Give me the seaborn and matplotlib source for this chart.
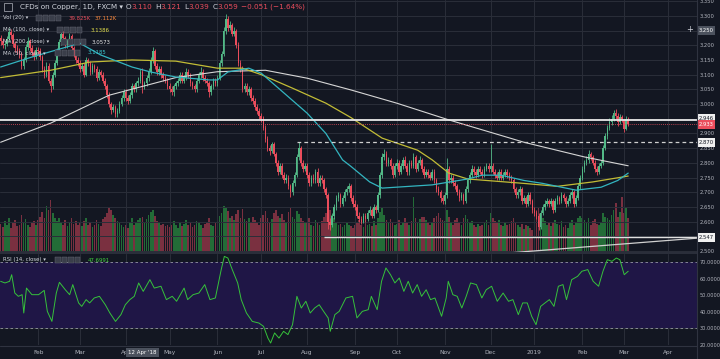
import numpy as np
import pandas as pd
import seaborn as sns
import matplotlib.pyplot as plt
from matplotlib.patches import Rectangle

W, H = 720, 359

# daily bars, 8 Jan 2018 .. 5 Mar 2019 (one row per month)
first_open = 3.225
closes = [
    3.215, 3.200, 3.205, 3.220, 3.245, 3.235, 3.205, 3.190, 3.180, 3.170, 3.130, 3.150, 3.195, 3.215, 3.190, 3.175, 3.160, 3.185,
    3.180, 3.160, 3.120, 3.100, 3.130, 3.080, 3.060, 3.100, 3.140, 3.180, 3.210, 3.240, 3.225, 3.200, 3.215, 3.230, 3.190, 3.170, 3.150, 3.140,
    3.120, 3.130, 3.100, 3.150, 3.140, 3.110, 3.130, 3.120, 3.090, 3.110, 3.100, 3.080, 3.060, 3.030, 3.000, 2.980, 2.990, 2.965, 2.975, 3.000, 3.020, 3.040,
    3.020, 3.010, 3.030, 3.060, 3.050, 3.070, 3.080, 3.110, 3.059, 3.070, 3.090, 3.110, 3.150, 3.180, 3.130, 3.110, 3.120, 3.100, 3.090, 3.080, 3.060,
    3.050, 3.040, 3.060, 3.070, 3.080, 3.100, 3.080, 3.090, 3.110, 3.100, 3.070, 3.060, 3.050, 3.080, 3.100, 3.110, 3.090, 3.080, 3.070, 3.040, 3.060, 3.080, 3.070,
    3.090, 3.140, 3.170, 3.250, 3.290, 3.260, 3.270, 3.240, 3.250, 3.200, 3.140, 3.120, 3.050, 3.060, 3.040, 3.050, 3.020, 3.010, 2.990, 2.975, 2.960,
    2.950, 2.920, 2.880, 2.850, 2.840, 2.865, 2.830, 2.800, 2.770, 2.790, 2.760, 2.740, 2.750, 2.720, 2.700, 2.730, 2.760, 2.820, 2.850, 2.800, 2.780, 2.790,
    2.760, 2.730, 2.750, 2.740, 2.770, 2.730, 2.750, 2.740, 2.710, 2.690, 2.600, 2.590, 2.620, 2.650, 2.680, 2.690, 2.660, 2.680, 2.700, 2.710, 2.720, 2.680, 2.660,
    2.650, 2.620, 2.610, 2.600, 2.620, 2.610, 2.630, 2.640, 2.620, 2.650, 2.640, 2.690, 2.760, 2.820, 2.830, 2.800, 2.810, 2.790, 2.760, 2.790,
    2.800, 2.770, 2.790, 2.810, 2.790, 2.770, 2.800, 2.790, 2.820, 2.780, 2.800, 2.810, 2.780, 2.760, 2.770, 2.760, 2.750, 2.770, 2.740, 2.710, 2.700, 2.680, 2.670,
    2.690, 2.780, 2.740, 2.750, 2.730, 2.720, 2.700, 2.680, 2.690, 2.670, 2.710, 2.740, 2.760, 2.780, 2.770, 2.760, 2.780, 2.770, 2.760, 2.780, 2.790, 2.780,
    2.790, 2.770, 2.760, 2.750, 2.770, 2.750, 2.760, 2.770, 2.760, 2.750, 2.740, 2.710, 2.690, 2.700, 2.710, 2.670, 2.680, 2.660, 2.690, 2.670, 2.640,
    2.630, 2.620, 2.580, 2.630, 2.650, 2.660, 2.670, 2.660, 2.670, 2.640, 2.670, 2.680, 2.670, 2.690, 2.680, 2.660, 2.670, 2.690, 2.700, 2.660, 2.680, 2.720, 2.750,
    2.780, 2.800, 2.810, 2.830, 2.820, 2.800, 2.780, 2.770, 2.790, 2.800, 2.850, 2.890, 2.920, 2.940, 2.950, 2.970, 2.960, 2.940, 2.955, 2.945,
    2.915, 2.950, 2.933,
]
highs = [
    3.235, 3.225, 3.215, 3.232, 3.258, 3.255, 3.242, 3.215, 3.200, 3.192, 3.178, 3.160, 3.205, 3.228, 3.222, 3.200, 3.185, 3.195,
    3.195, 3.190, 3.168, 3.130, 3.142, 3.138, 3.090, 3.110, 3.150, 3.190, 3.222, 3.255, 3.250, 3.232, 3.222, 3.242, 3.238, 3.198, 3.180, 3.160,
    3.150, 3.140, 3.138, 3.160, 3.158, 3.148, 3.140, 3.135, 3.128, 3.120, 3.115, 3.108, 3.090, 3.068, 3.040, 3.008, 3.000, 2.998, 2.985, 3.010, 3.030, 3.050,
    3.050, 3.030, 3.040, 3.070, 3.068, 3.080, 3.092, 3.120, 3.121, 3.080, 3.100, 3.122, 3.160, 3.195, 3.188, 3.140, 3.130, 3.128, 3.110, 3.098, 3.090,
    3.070, 3.060, 3.068, 3.080, 3.090, 3.110, 3.108, 3.098, 3.122, 3.118, 3.105, 3.078, 3.068, 3.090, 3.110, 3.125, 3.118, 3.098, 3.088, 3.078, 3.068, 3.090, 3.088,
    3.100, 3.150, 3.180, 3.262, 3.305, 3.298, 3.282, 3.275, 3.262, 3.255, 3.210, 3.150, 3.130, 3.072, 3.070, 3.060, 3.058, 3.030, 3.020, 3.000, 2.985,
    2.968, 2.958, 2.928, 2.890, 2.862, 2.872, 2.870, 2.838, 2.810, 2.800, 2.798, 2.770, 2.762, 2.758, 2.728, 2.740, 2.770, 2.830, 2.872, 2.858, 2.808, 2.800,
    2.800, 2.770, 2.758, 2.762, 2.780, 2.782, 2.760, 2.758, 2.748, 2.718, 2.698, 2.612, 2.630, 2.660, 2.690, 2.702, 2.698, 2.690, 2.710, 2.720, 2.730, 2.728, 2.690,
    2.672, 2.660, 2.632, 2.620, 2.630, 2.628, 2.640, 2.652, 2.648, 2.660, 2.658, 2.700, 2.770, 2.835, 2.848, 2.840, 2.820, 2.818, 2.798, 2.800,
    2.812, 2.810, 2.798, 2.820, 2.822, 2.800, 2.810, 2.808, 2.835, 2.828, 2.810, 2.822, 2.818, 2.790, 2.780, 2.778, 2.768, 2.780, 2.778, 2.750, 2.720, 2.708, 2.690,
    2.700, 2.815, 2.790, 2.762, 2.758, 2.740, 2.728, 2.710, 2.700, 2.698, 2.720, 2.750, 2.770, 2.792, 2.790, 2.778, 2.790, 2.788, 2.778, 2.790, 2.800, 2.798,
    2.865, 2.800, 2.780, 2.770, 2.780, 2.778, 2.768, 2.780, 2.778, 2.768, 2.758, 2.748, 2.718, 2.710, 2.720, 2.718, 2.690, 2.688, 2.700, 2.700, 2.678,
    2.650, 2.640, 2.628, 2.640, 2.660, 2.672, 2.680, 2.678, 2.680, 2.678, 2.680, 2.690, 2.688, 2.700, 2.698, 2.688, 2.680, 2.700, 2.712, 2.708, 2.690, 2.730, 2.760,
    2.790, 2.810, 2.822, 2.842, 2.838, 2.828, 2.808, 2.790, 2.800, 2.810, 2.860, 2.900, 2.930, 2.952, 2.962, 2.980, 2.982, 2.968, 2.965, 2.962,
    2.950, 2.958, 2.955,
]
lows = [
    3.200, 3.190, 3.188, 3.196, 3.212, 3.222, 3.195, 3.178, 3.170, 3.158, 3.118, 3.120, 3.142, 3.185, 3.180, 3.162, 3.150, 3.152,
    3.170, 3.150, 3.110, 3.088, 3.092, 3.070, 3.040, 3.052, 3.092, 3.132, 3.172, 3.200, 3.215, 3.190, 3.192, 3.205, 3.180, 3.160, 3.140, 3.128,
    3.110, 3.112, 3.092, 3.095, 3.130, 3.100, 3.102, 3.110, 3.080, 3.082, 3.092, 3.070, 3.050, 3.020, 2.990, 2.965, 2.972, 2.955, 2.955, 2.968, 2.992, 3.012,
    3.010, 3.000, 3.002, 3.022, 3.040, 3.042, 3.062, 3.072, 3.039, 3.050, 3.062, 3.080, 3.102, 3.140, 3.120, 3.100, 3.100, 3.090, 3.080, 3.070, 3.050,
    3.040, 3.030, 3.028, 3.050, 3.060, 3.070, 3.070, 3.070, 3.082, 3.090, 3.060, 3.050, 3.040, 3.042, 3.070, 3.090, 3.080, 3.070, 3.060, 3.025, 3.032, 3.050, 3.060,
    3.062, 3.082, 3.130, 3.162, 3.240, 3.250, 3.252, 3.230, 3.232, 3.190, 3.130, 3.108, 3.040, 3.042, 3.030, 3.032, 3.010, 3.000, 2.980, 2.965, 2.950,
    2.940, 2.910, 2.870, 2.840, 2.825, 2.832, 2.822, 2.790, 2.760, 2.762, 2.750, 2.730, 2.732, 2.712, 2.685, 2.692, 2.722, 2.752, 2.810, 2.790, 2.770, 2.772,
    2.750, 2.720, 2.722, 2.730, 2.732, 2.722, 2.722, 2.732, 2.700, 2.680, 2.575, 2.572, 2.582, 2.610, 2.640, 2.670, 2.650, 2.652, 2.670, 2.690, 2.700, 2.670, 2.650,
    2.640, 2.612, 2.600, 2.592, 2.595, 2.600, 2.602, 2.622, 2.612, 2.612, 2.630, 2.632, 2.682, 2.750, 2.810, 2.790, 2.790, 2.780, 2.750, 2.752,
    2.780, 2.760, 2.762, 2.780, 2.782, 2.760, 2.760, 2.782, 2.782, 2.770, 2.772, 2.792, 2.770, 2.750, 2.752, 2.750, 2.740, 2.742, 2.730, 2.700, 2.690, 2.668, 2.660,
    2.660, 2.682, 2.730, 2.730, 2.720, 2.710, 2.690, 2.670, 2.672, 2.660, 2.662, 2.700, 2.730, 2.752, 2.760, 2.750, 2.752, 2.762, 2.750, 2.752, 2.772, 2.770,
    2.770, 2.762, 2.750, 2.740, 2.742, 2.740, 2.742, 2.752, 2.750, 2.742, 2.730, 2.700, 2.680, 2.682, 2.692, 2.660, 2.662, 2.650, 2.652, 2.660, 2.630,
    2.620, 2.610, 2.572, 2.575, 2.622, 2.640, 2.652, 2.650, 2.652, 2.630, 2.632, 2.660, 2.660, 2.662, 2.670, 2.650, 2.652, 2.662, 2.682, 2.650, 2.652, 2.672, 2.712,
    2.742, 2.770, 2.792, 2.800, 2.810, 2.792, 2.770, 2.760, 2.762, 2.782, 2.792, 2.842, 2.882, 2.910, 2.930, 2.942, 2.950, 2.925, 2.932, 2.940,
    2.905, 2.910, 2.925,
]
volumes = [  # thousands
    32, 28, 35, 30, 38, 27, 33, 36, 29, 31, 42, 34, 37, 30, 28, 33, 35, 31,
    36, 40, 45, 38, 52, 47, 59, 44, 39, 35, 38, 33, 30, 36, 29, 34, 38, 32, 35, 30,
    33, 29, 35, 38, 31, 34, 28, 30, 36, 32, 29, 37, 40, 44, 50, 47, 42, 38, 35, 33, 30, 28,
    30, 27, 34, 38, 31, 33, 36, 39, 39.825, 34, 37, 42, 45, 48, 41, 35, 33, 30, 32, 29, 31,
    28, 31, 35, 30, 27, 33, 29, 32, 36, 30, 34, 28, 31, 35, 33, 30, 27, 32, 34, 38, 31, 29, 33,
    35, 41, 44, 52, 50, 46, 38, 41, 36, 43, 47, 39, 49, 37, 35, 38, 34, 40, 36, 33, 31,
    38, 42, 46, 39, 34, 37, 44, 48, 41, 38, 43, 36, 34, 45, 50, 40, 37, 46, 43, 39, 35, 33,
    34, 38, 31, 29, 36, 33, 30, 35, 40, 44, 55, 48, 42, 38, 33, 30, 32, 28, 30, 34, 31, 29, 27,
    30, 33, 36, 31, 28, 34, 30, 32, 29, 35, 31, 38, 45, 50, 42, 36, 33, 37, 34, 30,
    32, 36, 30, 34, 38, 33, 31, 35, 62, 39, 33, 37, 40, 40, 36, 33, 30, 34, 38, 41, 44, 39, 36,
    35, 48, 40, 33, 31, 36, 38, 34, 30, 39, 42, 37, 33, 35, 30, 28, 32, 29, 31, 34, 36, 30,
    44, 38, 35, 33, 36, 31, 29, 34, 30, 32, 35, 38, 33, 30, 28, 32, 26, 30, 29, 27, 25,
    30, 45, 50, 42, 38, 35, 31, 33, 29, 34, 36, 32, 30, 35, 28, 31, 27, 33, 36, 30, 34, 38, 41,
    39, 36, 33, 38, 31, 35, 37, 32, 30, 34, 44, 40, 38, 36, 42, 48, 55, 40, 45, 62,
    44, 50, 38,
]

# moving averages (bar index, value)
ma50_idx = [0, 15, 38, 48, 63, 72, 84, 100, 104, 109, 119, 125, 136, 147, 156, 164, 168, 177, 183, 207, 224, 231, 240, 251, 260, 276, 288, 296, 301]
ma50_val = [3.126, 3.160, 3.207, 3.167, 3.126, 3.109, 3.092, 3.082, 3.082, 3.109, 3.122, 3.105, 3.037, 2.969, 2.900, 2.810, 2.788, 2.735, 2.714, 2.725, 2.745, 2.758, 2.758, 2.740, 2.730, 2.707, 2.717, 2.740, 2.765]
ma100_idx = [0, 24, 43, 63, 84, 104, 116, 125, 140, 156, 168, 183, 200, 207, 215, 224, 251, 267, 284, 301]
ma100_val = [3.090, 3.115, 3.143, 3.150, 3.146, 3.122, 3.122, 3.100, 3.054, 3.003, 2.954, 2.884, 2.843, 2.810, 2.765, 2.745, 2.730, 2.720, 2.735, 2.755]
ma200_idx = [0, 24, 52, 84, 104, 127, 147, 168, 190, 215, 251, 280, 301]
ma200_val = [2.870, 2.935, 3.030, 3.090, 3.110, 3.115, 3.088, 3.048, 3.003, 2.946, 2.870, 2.820, 2.790]

# RSI (14, close) (bar index, value)
rsi_idx = [0, 2.1, 4.3, 5.3, 6.8, 8.5, 10.3, 11.1, 12.4, 15.0, 18.2, 20.9, 22.4, 24.6, 26.7, 28.2, 31.0, 33.1, 34.6, 37.4,
           38.9, 41.0, 42.7, 44.9, 47.4, 50.2, 52.4, 55.1, 57.7, 59.8, 62.0, 64.1, 66.2, 68.4, 71.6, 73.7, 76.9, 79.5, 82.3, 84.4,
           88.0, 89.7, 92.3, 95.1, 97.9, 100.4, 103.0, 105.8, 107.3, 109.0, 111.1, 113.7, 115.4, 117.9, 120.7, 123.9, 126.1, 128.2, 129.5, 131.4,
           133.5, 135.7, 137.8, 140.0, 142.1, 144.2, 146.4, 148.5, 150.6, 152.8, 154.9, 157.1, 158.1, 160.3, 162.4, 165.6, 168.8, 170.9, 173.5, 176.3,
           177.8, 180.6, 182.7, 184.8, 187.0, 189.1, 191.2, 193.4, 195.5, 197.6, 199.8, 201.9, 204.1, 206.2, 208.3, 211.5, 213.7, 214.7, 216.9, 219.0,
           221.2, 223.3, 225.4, 228.2, 230.8, 232.9, 235.5, 238.2, 241.0, 243.6, 245.7, 248.3, 250.4, 252.6, 254.7, 256.8, 259.0, 261.1, 263.2, 265.4,
           267.5, 269.7, 271.4, 273.9, 276.7, 278.8, 281.6, 284.2, 286.8, 288.9, 291.0, 293.2, 295.3, 297.0, 299.1, 301.0]
rsi_val = [58.3, 57.3, 58.3, 62.3, 51.2, 49.2, 50.2, 39.1, 54.2, 50.2, 50.2, 52.8, 40.1, 34.0, 51.2, 57.7, 53.2, 50.2, 56.3, 45.2,
           43.1, 47.2, 45.2, 48.2, 49.2, 44.1, 39.1, 34.0, 38.1, 44.1, 47.2, 49.2, 57.3, 52.2, 59.3, 54.2, 55.3, 47.2, 49.2, 46.2,
           54.2, 47.2, 50.2, 51.2, 56.3, 47.2, 48.2, 65.4, 73.4, 72.4, 65.4, 57.3, 47.2, 39.1, 34.0, 33.0, 31.0, 23.9, 20.9, 27.0,
           23.9, 28.0, 26.0, 32.0, 49.2, 42.1, 46.2, 39.1, 42.1, 44.1, 40.1, 36.1, 28.0, 38.1, 40.1, 48.2, 49.2, 36.1, 40.1, 41.1,
           49.2, 41.1, 58.3, 66.4, 62.3, 57.3, 60.3, 52.2, 58.3, 51.2, 56.3, 49.2, 53.2, 47.2, 48.2, 37.1, 48.2, 58.3, 50.2, 49.2,
           42.1, 49.2, 57.3, 56.3, 48.2, 53.2, 55.3, 46.2, 51.2, 46.2, 47.2, 38.1, 45.2, 45.2, 37.1, 32.0, 43.1, 45.2, 47.2, 43.1,
           55.3, 56.3, 47.2, 59.3, 61.3, 64.4, 65.4, 58.3, 55.3, 64.4, 71.4, 70.4, 72.4, 71.4, 62.3, 64.4]

hline_level = 2.946
ray_level = 2.870
ray_start = 142
support_level = 2.547
support_start = 155
trend_idx = [280, 335]
trend_val = [2.5136, 2.5442]
last_price = 2.933

sns.set_theme(style="dark")
plt.rcParams['font.family'] = ['DejaVu Sans']

bg = '#131722'
grid_c = '#2a2e39'
txt = '#b2b5be'
up_c, dn_c = '#53b987', '#eb4d5c'
vup_c, vdn_c = '#236c37', '#7a3040'

n = len(closes)
x = np.arange(n)
c = np.array(closes)
o = np.array([first_open] + closes[:-1])
hi = np.maximum(np.array(highs), np.maximum(o, c))
lo = np.minimum(np.array(lows), np.minimum(o, c))
rising = c >= o
cols = np.where(rising, up_c, dn_c)

# month ticks
all_days = pd.bdate_range('2018-01-01', '2019-04-30')
start = all_days.get_loc(pd.Timestamp('2018-01-08'))
firsts = all_days.to_series().groupby([all_days.year, all_days.month]).first()
month_pos = [all_days.get_loc(d) - start for d in firsts]
month_lab = [d.strftime('%Y') if d.month == 1 else d.strftime('%b') for d in firsts]

fig = plt.figure(figsize=(W / 100, H / 100), dpi=100, facecolor=bg)


def rect(x0, y0, x1, y1):
    return [x0 / W, 1 - y1 / H, (x1 - x0) / W, (y1 - y0) / H]


ax_vol = fig.add_axes(rect(0, 0, 697, 252))
ax = fig.add_axes(rect(0, 0, 697, 252), sharex=ax_vol)
ax_rsi = fig.add_axes(rect(0, 254, 697, 345), sharex=ax_vol)
ax_vol.set_facecolor(bg)
ax.set_facecolor('none')
ax_rsi.set_facecolor(bg)
for a in (ax_vol, ax, ax_rsi):
    for s in a.spines.values():
        s.set_visible(False)

xmin, xmax = -0.3, 334
ax.set_xlim(xmin, xmax)

# volume
ax_vol.bar(x, volumes, width=0.8, color=np.where(rising, vup_c, vdn_c), linewidth=0)
ax_vol.set_ylim(0, 285)
ax_vol.set_yticks([])
ax_vol.tick_params(length=0, labelbottom=False)

# grid + price axis (labels hidden where a marker box sits on the scale)
price_ticks = np.round(np.arange(2.50, 3.351, 0.05), 3)
hidden = {3.25, 2.95, 2.55}
ax.set_ylim(2.4966, 3.354)
ax.set_yticks(price_ticks)
ax.set_yticklabels(['' if t in hidden else f'{t:.3f}' for t in price_ticks])
ax.yaxis.tick_right()
ax.tick_params(axis='y', length=0, pad=2.2, labelsize=3.8, labelcolor=txt)
ax.set_xticks(month_pos)
ax.tick_params(axis='x', length=0, labelbottom=False)
ax.grid(True, color=grid_c, lw=0.7)
ax.set_axisbelow(True)

# candles
ax.vlines(x, lo, hi, colors=cols, lw=0.6, zorder=3)
ax.bar(x, np.maximum(np.abs(c - o), 0.0015), bottom=np.minimum(o, c), width=0.74,
       color=cols, linewidth=0, zorder=4)

# moving averages
sns.lineplot(x=ma200_idx, y=ma200_val, ax=ax, color='#d6d6d6', lw=0.8, zorder=5)
sns.lineplot(x=ma100_idx, y=ma100_val, ax=ax, color='#c2bc36', lw=0.9, zorder=5)
sns.lineplot(x=ma50_idx, y=ma50_val, ax=ax, color='#33b5c0', lw=0.9, zorder=5)

# drawings
ax.axhline(hline_level, color='#e8e8e8', lw=1.3, zorder=6)
ax.axhline(last_price, color=dn_c, lw=0.6, ls=(0, (1, 1.5)), zorder=6)
ax.hlines(ray_level, ray_start, xmax, color='#d0d0d0', lw=0.9, ls=(0, (3, 2.5)), zorder=6)
ax.hlines(support_level, support_start, xmax, color='#e0e0e0', lw=1.0, zorder=6)
slope = (trend_val[1] - trend_val[0]) / (trend_idx[1] - trend_idx[0])
ax.plot([240, xmax], [trend_val[0] + slope * (240 - trend_idx[0]), trend_val[0] + slope * (xmax - trend_idx[0])],
        color='#d0d0d0', lw=0.9, zorder=6)


def price_label(p, s, fc, tc):
    ax.text(1.002, p, s, transform=ax.get_yaxis_transform(), ha='left', va='center',
            fontsize=3.8, color=tc, clip_on=False, zorder=20,
            bbox=dict(boxstyle='square,pad=0.35', fc=fc, ec='none'))


price_label(hline_level + 0.006, f'{hline_level:.3f}', '#f0f0f0', '#131722')
price_label(last_price - 0.002, f'{last_price:.3f}', dn_c, 'white')
price_label(ray_level, f'{ray_level:.3f}', '#f0f0f0', '#131722')
price_label(support_level, f'{support_level:.3f}', '#f0f0f0', '#131722')
price_label(3.250, '3.250', '#4c525e', 'white')

# RSI pane
ax_rsi.axhspan(30, 70, color='#1f1646', lw=0)
sns.lineplot(x=rsi_idx, y=rsi_val, ax=ax_rsi, color='#36c23b', lw=0.7, zorder=5)
ax_rsi.axhline(70, color='#9598a1', lw=0.6, ls=(0, (3, 3)), zorder=4)
ax_rsi.axhline(30, color='#9598a1', lw=0.6, ls=(0, (3, 3)), zorder=4)
ax_rsi.set_ylim(19.7, 74.85)
ax_rsi.set_yticks([20, 30, 40, 50, 60, 70])
ax_rsi.set_yticklabels([f'{t:.4f}' for t in [20, 30, 40, 50, 60, 70]])
ax_rsi.yaxis.tick_right()
ax_rsi.tick_params(axis='y', length=0, pad=2.2, labelsize=3.6, labelcolor=txt)
ax_rsi.set_xticks(month_pos)
ax_rsi.set_xticklabels(month_lab)
ax_rsi.tick_params(axis='x', length=0, pad=3.6, labelsize=4.2, labelcolor=txt)
ax_rsi.grid(True, color=grid_c, lw=0.7)
ax_rsi.set_axisbelow(True)
ax_rsi.set_xlim(xmin, xmax)
for a in (ax, ax_rsi, ax_vol):
    a.set_xlabel('')
    a.set_ylabel('')

# partly visible year label at the left edge
ax_rsi.text(-5, -0.085, '2018', transform=ax_rsi.get_xaxis_transform(), ha='center', va='center',
            fontsize=4.2, color=txt, clip_on=False)

# pane separators
fig.add_artist(plt.Line2D([0, 697 / W], [1 - 253 / H] * 2, color='#2f3340', lw=1.2))
fig.add_artist(plt.Line2D([0, 697 / W], [1 - 345.5 / H] * 2, color='#2f3340', lw=0.8))
fig.add_artist(plt.Line2D([697 / W] * 2, [1 - 359 / H, 1], color='#2f3340', lw=0.8))

# crosshair date label
ax_rsi.text(68, -0.085, "12 Apr '18", transform=ax_rsi.get_xaxis_transform(), ha='center', va='center',
            fontsize=4.0, color='white', clip_on=False, zorder=20,
            bbox=dict(boxstyle='square,pad=0.4', fc='#4c525e', ec='none'))
fig.text(690 / W, 1 - 29 / H, '+', color='#d1d4dc', fontsize=6, ha='center', va='center')

# legends
rend = fig.canvas.get_renderer()


def row(x0, y, parts, size):
    xx = x0
    for s, col, gap in parts:
        t = fig.text(xx / W, 1 - y / H, s, color=col, fontsize=size, ha='left', va='center', zorder=30)
        xx += t.get_window_extent(rend).width + gap


def icons(x0, y):
    for k in range(4):
        fig.add_artist(Rectangle(((x0 + k * 6.6) / W, 1 - (y + 3) / H), 5.6 / W, 6 / H,
                                 transform=fig.transFigure, fc='#3a3e4a', ec='#6a6d78', lw=0.3, zorder=30))


fig.add_artist(Rectangle((4 / W, 1 - 10.5 / H), 8 / W, 7 / H, transform=fig.transFigure,
                         fc='none', ec='#b2b5be', lw=0.5, zorder=30))
row(20, 7, [('CFDs on Copper, 1D, FXCM ▾', '#d1d4dc', 0)], 5.2)
row(126, 7, [('O', '#d1d4dc', 0), ('3.110', dn_c, 3), ('H', '#d1d4dc', 0), ('3.121', dn_c, 3),
             ('L', '#d1d4dc', 0), ('3.039', dn_c, 3), ('C', '#d1d4dc', 0), ('3.059', dn_c, 3),
             ('−0.051 (−1.64%)', dn_c, 0)], 5.2)
row(3, 18, [('Vol (20) ▾', '#d1d4dc', 0)], 3.9)
icons(36, 18)
row(69, 18, [('39.825K', dn_c, 3), ('37.112K', '#ff8a3d', 0)], 3.9)
row(3, 30, [('MA (100, close) ▾', '#d1d4dc', 0)], 3.9)
icons(57, 30)
row(91, 30, [('3.1386', '#e3e04a', 0)], 3.9)
row(3, 42, [('MA (200, close) ▾', '#d1d4dc', 0)], 3.9)
icons(61, 42)
row(92, 42, [('3.0573', '#e8e8e8', 0)], 3.9)
row(3, 53, [('MA (50, close) ▾', '#d1d4dc', 0)], 3.9)
icons(55, 53)
row(88, 53, [('3.1185', '#3cc8d0', 0)], 3.9)
row(3, 260, [('RSI (14, close) ▾', '#d1d4dc', 0)], 3.9)
icons(55, 260)
row(88, 260, [('47.6991', '#3fd03f', 0)], 3.9)

fig.savefig('out.png', dpi=100, facecolor=bg)
